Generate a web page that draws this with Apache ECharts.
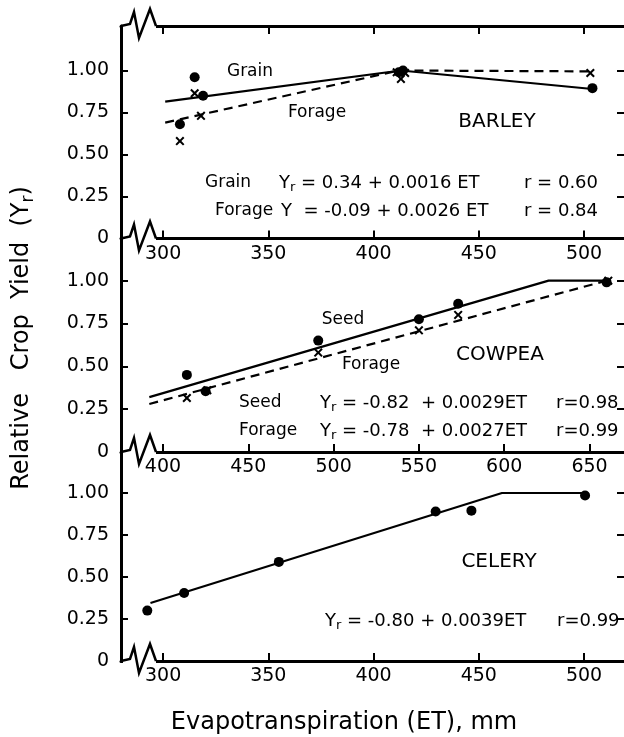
<!DOCTYPE html>
<html><head><meta charset="utf-8">
<script src="https://cdn.jsdelivr.net/npm/echarts@6/dist/echarts.min.js"></script>
<style>html,body{margin:0;padding:0;background:#fff}#c{width:624px;height:737px}</style>
</head><body><div id="c"></div>
<script>
// ---------- data ----------
const barleyTicks = [300, 350, 400, 450, 500];
const cowpeaTicks = [400, 450, 500, 550, 600, 650];
const celeryTicks = [300, 350, 400, 450, 500];
const yTicks = [0, 0.25, 0.5, 0.75, 1.0];

const barleyGrainLine = [[301, 0.815], [413, 1.0], [504, 0.89]];
const barleyForageLine = [[301, 0.69], [412, 1.0], [503, 0.995]];
const barleyGrainPts = [[315, 0.96], [319, 0.85], [308, 0.68], [412, 0.99], [414, 1.0], [504, 0.895]];
const barleyForagePts = [[308, 0.58], [315, 0.865], [318, 0.73], [411, 0.99], [413, 0.95], [415, 0.985], [503, 0.985]];

const cowpeaSeedLine = [[392, 0.32], [626, 1.0], [660, 1.0]];
const cowpeaForageLine = [[392, 0.28], [660, 1.0]];
const cowpeaSeedPts = [[414, 0.45], [425, 0.355], [491, 0.65], [550, 0.775], [573, 0.865], [660, 0.99]];
const cowpeaForagePts = [[414, 0.315], [426, 0.36], [491, 0.58], [550, 0.71], [573, 0.80], [661, 1.0]];

const celeryLine = [[294, 0.345], [461, 1.0], [500, 1.0]];
const celeryPts = [[292.5, 0.30], [310, 0.405], [355, 0.59], [429.5, 0.89], [446.5, 0.895], [500.5, 0.985]];

// ---------- layout ----------
const FONT = 'DejaVu Sans';
const LEFT = 121;
const P = [{top: 26, bottom: 238.5}, {top: 238.5, bottom: 452}, {top: 452, bottom: 661}];
const xRanges = [[280, 519], [375.4, 670.2], [280, 519]];
const yMax = [1.265, 1.246, 1.244];
const XSYM = 'path://M0,1.6 L1.6,0 L5,3.4 L8.4,0 L10,1.6 L6.6,5 L10,8.4 L8.4,10 L5,6.6 L1.6,10 L0,8.4 L3.4,5 Z';

const chart = echarts.init(document.getElementById('c'));

const grids = P.map(p => ({left: LEFT, right: 0, top: p.top, height: p.bottom - p.top}));

function yAx(gi, right) {
  return {
    type: 'value', gridIndex: gi, min: 0, max: yMax[gi], position: right ? 'right' : 'left',
    axisLine: {show: !right, lineStyle: {color: '#000', width: 3}},
    axisTick: {show: true, inside: true, length: 7, customValues: yTicks, lineStyle: {color: '#000', width: 2}},
    axisLabel: {show: !right, customValues: yTicks, formatter: v => v === 0 ? '0' : v.toFixed(2),
      color: '#000', fontFamily: FONT, fontSize: 19, margin: 12},
    splitLine: {show: false}
  };
}
function xAx(gi, ticks, pos, labels) {
  return {
    type: 'value', gridIndex: gi, min: xRanges[gi][0], max: xRanges[gi][1], position: pos,
    axisLine: {show: true, onZero: false, lineStyle: {color: '#000', width: 3}},
    axisTick: {show: true, inside: true, length: 8, customValues: ticks, lineStyle: {color: '#000', width: 2}},
    axisLabel: {show: labels, customValues: ticks, color: '#000', fontFamily: FONT, fontSize: 19, margin: 6},
    splitLine: {show: false}
  };
}

const xAxes = [xAx(0, barleyTicks, 'bottom', true), xAx(0, barleyTicks, 'top', false),
               xAx(1, cowpeaTicks, 'bottom', true), xAx(2, celeryTicks, 'bottom', true)];
const yAxes = [yAx(0, false), yAx(0, true), yAx(1, false), yAx(1, true), yAx(2, false), yAx(2, true)];

function line(data, xi, yi, dashed) {
  return {type: 'line', xAxisIndex: xi, yAxisIndex: yi, data: data, showSymbol: false, silent: true,
    lineStyle: {color: '#000', width: 2.2, type: dashed ? [9, 6] : 'solid'}, z: 3};
}
function dots(data, xi, yi) {
  return {type: 'scatter', xAxisIndex: xi, yAxisIndex: yi, data: data, symbol: 'circle', symbolSize: 10,
    itemStyle: {color: '#000', opacity: 1}, z: 4};
}
function crosses(data, xi, yi) {
  return {type: 'scatter', xAxisIndex: xi, yAxisIndex: yi, data: data, symbol: XSYM, symbolSize: 9,
    itemStyle: {color: '#000', opacity: 1}, z: 4};
}

const series = [
  line(barleyGrainLine, 0, 0, false), line(barleyForageLine, 0, 0, true),
  dots(barleyGrainPts, 0, 0), crosses(barleyForagePts, 0, 0),
  line(cowpeaSeedLine, 2, 2, false), line(cowpeaForageLine, 2, 2, true),
  dots(cowpeaSeedPts, 2, 2), crosses(cowpeaForagePts, 2, 2),
  line(celeryLine, 3, 4, false), dots(celeryPts, 3, 4)
];

// ---------- annotations ----------
const rich = {
  n: {fontFamily: FONT, fontSize: 18, lineHeight: 22, color: '#000'},
  s: {fontFamily: FONT, fontSize: 13, lineHeight: 10, verticalAlign: 'bottom', color: '#000'},
  N: {fontFamily: FONT, fontSize: 24, lineHeight: 30, color: '#000'},
  S: {fontFamily: FONT, fontSize: 17, lineHeight: 14, verticalAlign: 'bottom', color: '#000'}
};
const g = [];
function txt(x, y, text, size, align) {
  g.push({type: 'text', x: x, y: y, z: 50, silent: true,
    style: {text: text, fontFamily: FONT, fontSize: size, fill: '#000', textAlign: align || 'left', textVerticalAlign: 'middle', rich: rich}});
}
// barley
txt(250, 72, 'Grain', 17, 'center');
txt(317, 113, 'Forage', 17, 'center');
txt(497, 122, 'BARLEY', 20, 'center');
txt(205, 183, 'Grain', 17);
txt(279, 183, '{n|Y}{s|r}{n| = 0.34 + 0.0016 ET}', 18);
txt(524, 183, 'r = 0.60', 18);
txt(215, 211, 'Forage', 17);
txt(281, 211, '{n|Y  = -0.09 + 0.0026 ET}', 18);
txt(524, 211, 'r = 0.84', 18);
// cowpea
txt(343, 320, 'Seed', 17, 'center');
txt(371, 365, 'Forage', 17, 'center');
txt(500, 355, 'COWPEA', 20, 'center');
txt(239, 403, 'Seed', 17);
txt(320, 403, '{n|Y}{s|r}{n| = -0.82  + 0.0029ET}', 18);
txt(556, 403, 'r=0.98', 18);
txt(239, 431, 'Forage', 17);
txt(320, 431, '{n|Y}{s|r}{n| = -0.78  + 0.0027ET}', 18);
txt(556, 431, 'r=0.99', 18);
// celery
txt(499, 562, 'CELERY', 20, 'center');
txt(325, 621, '{n|Y}{s|r}{n| = -0.80 + 0.0039ET}', 18);
txt(557, 621, 'r=0.99', 18);
// axis titles
txt(344, 723, 'Evapotranspiration (ET), mm', 24, 'center');
g.push({type: 'text', x: 22, y: 338, rotation: Math.PI / 2, z: 50, silent: true,
  style: {text: '{N|Relative   Crop  Yield  (Y}{S|r}{N|)}', rich: rich, textAlign: 'center', textVerticalAlign: 'middle', fill: '#000'}});

// axis breaks (zigzags)
const zz = [[0, 0], [9, -2], [13, -14], [18, 12], [29, -17], [35, 0]];
[P[0].top, P[0].bottom, P[1].bottom, P[2].bottom].forEach(y0 => {
  g.push({type: 'rect', shape: {x: 123, y: y0 - 3, width: 33, height: 6}, style: {fill: '#fff'}, z: 60, silent: true});
  g.push({type: 'polyline', shape: {points: zz.map(p => [LEFT + p[0], y0 + p[1]])},
    style: {stroke: '#000', lineWidth: 2.5, fill: null}, z: 61, silent: true});
});

chart.setOption({
  animation: false,
  backgroundColor: '#fff',
  grid: grids,
  xAxis: xAxes,
  yAxis: yAxes,
  series: series,
  graphic: g
});
</script>
</body></html>
